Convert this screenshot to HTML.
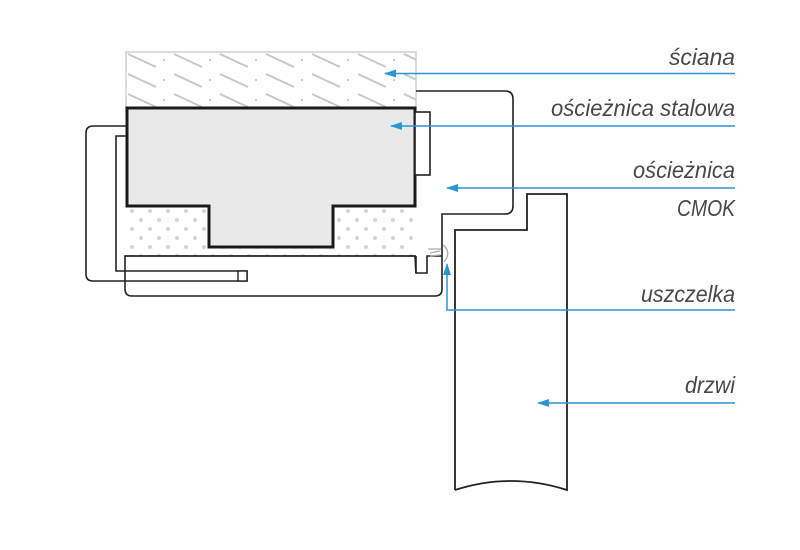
<!DOCTYPE html>
<html><head><meta charset="utf-8"><style>html,body{margin:0;padding:0;background:#fff}svg{display:block}</style></head>
<body>
<svg width="800" height="550" viewBox="0 0 800 550" xmlns="http://www.w3.org/2000/svg">
<defs>
<pattern id="hatch" width="46" height="20" patternUnits="userSpaceOnUse" patternTransform="translate(126,52)">
<rect width="46" height="20" fill="#fff"/>
<line x1="2" y1="2" x2="30" y2="15" stroke="#c8c8c8" stroke-width="2"/>
<circle cx="38" cy="8" r="1.1" fill="#c8c8c8"/>
</pattern>
<pattern id="dots" width="18" height="18" patternUnits="userSpaceOnUse" patternTransform="translate(127,206)">
<rect width="18" height="18" fill="#fff"/>
<circle cx="5" cy="5" r="2" fill="#d3d3d3"/>
<circle cx="14" cy="14" r="2" fill="#d3d3d3"/>
</pattern>
<marker id="arr" markerWidth="12" markerHeight="8" refX="11" refY="4" orient="auto" markerUnits="userSpaceOnUse">
<path d="M0,0 L12,4 L0,8 z" fill="#2a96d4"/>
</marker>
</defs>

<rect x="126" y="52" width="290" height="56" fill="url(#hatch)" stroke="#cfcfcf" stroke-width="1.5"/>
<rect x="127" y="206" width="288" height="50" fill="url(#dots)"/>

<path d="M127,126 L93,126 Q86,126 86,133 L86,274 Q86,281 93,281 L247,281 L247,271 L116,271 L116,136 L127,136" fill="#fff" stroke="#222" stroke-width="1.6"/>
<rect x="238" y="271" width="9" height="10" fill="#fff" stroke="#222" stroke-width="1.4"/>

<path d="M416,91 L505,91 Q513,91 513,99 L513,206 Q513,214 505,214 L442,214 L442,289 Q442,296 435,296 L132,296 Q125,296 125,289 L125,256 L415,256 L416,273 L427,273 L427,256 L442,256" fill="none" stroke="#222" stroke-width="1.6"/>
<line x1="125" y1="256" x2="416" y2="256" stroke="#222" stroke-width="1.6"/>
<line x1="416" y1="256" x2="416" y2="273" stroke="#222" stroke-width="1.6"/>

<path d="M428,249 L441,249 M430,253 L440,251 M430,256 L440,255 M443,245 Q452,252 444,262" fill="none" stroke="#aaa" stroke-width="1.3"/>

<path d="M127,108 L415,108 L415,206 L333,206 L333,247 L209,247 L209,206 L127,206 Z" fill="#e9e9e9" stroke="#1a1a1a" stroke-width="3"/>
<rect x="415" y="112" width="15" height="63" fill="#fff" stroke="#222" stroke-width="1.6"/>

<path d="M455,490 L455,230 L527,230 L527,194 L567,194 L567,490 Q511,472 455,490" fill="#fff" stroke="#222" stroke-width="1.8"/>

<g stroke="#2a96d4" stroke-width="1.5" fill="none">
<line x1="735" y1="73.5" x2="385" y2="73.5" marker-end="url(#arr)"/>
<line x1="735" y1="126" x2="391" y2="126" marker-end="url(#arr)"/>
<line x1="735" y1="188" x2="447" y2="188" marker-end="url(#arr)"/>
<path d="M735,310 L447,310 L447,264" marker-end="url(#arr)"/>
<line x1="735" y1="403" x2="538" y2="403" marker-end="url(#arr)"/>
</g>

<g font-family="Liberation Sans, sans-serif" font-style="italic" font-size="23" fill="#484848" text-anchor="end">
<text x="735" y="65" textLength="66" lengthAdjust="spacingAndGlyphs">ściana</text>
<text x="735" y="116" textLength="184" lengthAdjust="spacingAndGlyphs">ościeżnica stalowa</text>
<text x="735" y="178" textLength="102" lengthAdjust="spacingAndGlyphs">ościeżnica</text>
<text x="735" y="216" textLength="58" lengthAdjust="spacingAndGlyphs">CMOK</text>
<text x="735" y="302" textLength="94" lengthAdjust="spacingAndGlyphs">uszczelka</text>
<text x="735" y="393" textLength="50" lengthAdjust="spacingAndGlyphs">drzwi</text>
</g>
</svg>
</body></html>
